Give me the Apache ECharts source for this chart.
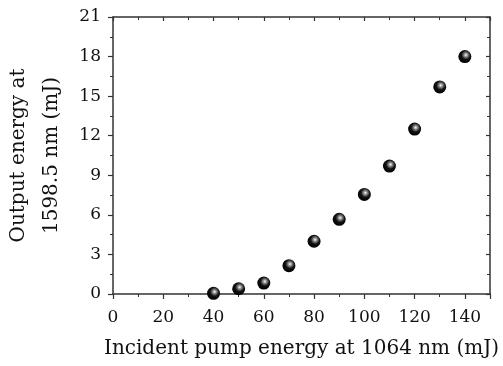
<!DOCTYPE html>
<html>
<head>
<meta charset="utf-8">
<script src="https://cdn.jsdelivr.net/npm/echarts@6/dist/echarts.min.js"></script>
<style>
  html, body { margin: 0; padding: 0; background: #fff; }
  #main { width: 503px; height: 366px; }
</style>
</head>
<body>
<div id="main"></div>
<script>
var pumpEnergy = [40, 50, 60, 70, 80, 90, 100, 110, 120, 130, 140];
var outputEnergy = [0.05, 0.4, 0.83, 2.15, 4.0, 5.66, 7.55, 9.7, 12.5, 15.7, 18.0];

var font = 'DejaVu Serif';
var axisColor = '#333';

var chart = echarts.init(document.getElementById('main'));

var sphere = new echarts.graphic.RadialGradient(0.58, 0.38, 0.62, [
  { offset: 0, color: '#ffffff' },
  { offset: 0.2, color: '#999999' },
  { offset: 0.55, color: '#111111' },
  { offset: 1, color: '#000000' }
]);

function mirrorAxis(pos, min, max, interval) {
  return {
    type: 'value',
    position: pos,
    min: min,
    max: max,
    interval: interval,
    axisLine: { show: true, onZero: false, lineStyle: { color: axisColor, width: 1.5 } },
    axisTick: { show: true, inside: true, length: 4, lineStyle: { color: axisColor, width: 1.2 } },
    minorTick: { show: true, splitNumber: 2, length: 3, lineStyle: { color: axisColor } },
    axisLabel: { show: false },
    splitLine: { show: false }
  };
}

var option = {
  animation: false,
  grid: { left: 113, right: 13, top: 17, bottom: 72, containLabel: false, outerBoundsMode: 'none' },
  xAxis: [{
    type: 'value',
    min: 0,
    max: 150,
    interval: 20,
    name: 'Incident pump energy at 1064 nm (mJ)',
    nameLocation: 'middle',
    nameGap: 45,
    nameTextStyle: { fontFamily: font, fontSize: 20, color: '#111' },
    axisLine: { onZero: false, lineStyle: { color: axisColor, width: 1.5 } },
    axisTick: { length: 5, lineStyle: { color: axisColor, width: 1.2 } },
    minorTick: { show: true, splitNumber: 2, length: 3, lineStyle: { color: axisColor } },
    axisLabel: {
      fontFamily: font, fontSize: 17, color: '#111', margin: 15,
      formatter: function (v) { return v === 150 ? '' : String(v); }
    },
    splitLine: { show: false }
  }, mirrorAxis('top', 0, 150, 20)],
  yAxis: [{
    type: 'value',
    min: 0,
    max: 21,
    interval: 3,
    name: 'Output energy at\n1598.5 nm (mJ)',
    nameLocation: 'middle',
    nameRotate: 90,
    nameGap: 43,
    nameTextStyle: { fontFamily: font, fontSize: 20, color: '#111', lineHeight: 33 },
    axisLine: { onZero: false, lineStyle: { color: axisColor, width: 1.5 } },
    axisTick: { length: 5, lineStyle: { color: axisColor, width: 1.2 } },
    minorTick: { show: true, splitNumber: 2, length: 3, lineStyle: { color: axisColor } },
    axisLabel: { fontFamily: font, fontSize: 17, color: '#111', margin: 12 },
    splitLine: { show: false }
  }, mirrorAxis('right', 0, 21, 3)],
  series: [{
    type: 'scatter',
    xAxisIndex: 0,
    yAxisIndex: 0,
    symbol: 'circle',
    symbolSize: 13,
    itemStyle: { color: sphere, opacity: 1 },
    data: pumpEnergy.map(function (x, i) { return [x, outputEnergy[i]]; })
  }]
};

chart.setOption(option);
</script>
</body>
</html>
